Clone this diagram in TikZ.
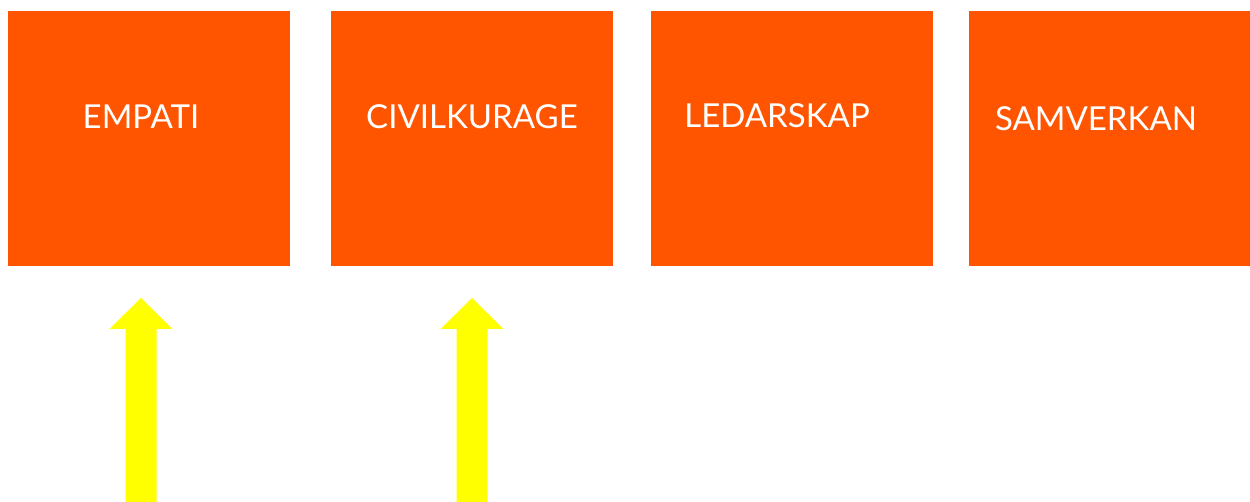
\documentclass[tikz,border=0pt]{standalone}
\usepackage{fontspec}
\setmainfont{Lato}
\usetikzlibrary{positioning}
\definecolor{boxorange}{HTML}{FF5500}
\definecolor{arrowyellow}{HTML}{FFFF00}

\begin{document}
\begin{tikzpicture}[x=1pt, y=-1pt]
		\useasboundingbox (0,0) rectangle (1250,502);
		\tikzset{
			valuebox/.style={fill=boxorange, anchor=north west, inner sep=0pt,
				minimum width=282pt, minimum height=255pt},
			valuetext/.style={text=white, font=\fontsize{33}{40}\selectfont, inner sep=0pt}
		}
		% Boxes
		\node[valuebox] (empati) at (8,11) {};
		\node[valuebox] (civil) at (331,11) {};
		\node[valuebox] (ledar) at (651,11) {};
		\node[valuebox, minimum width=281pt] (samverk) at (969,11) {};
		
		% Labels
		\node[valuetext] (empatiT) at (141,117) {EMPATI};
		\node[valuetext] (civilT) at (472,117) {CIVILKURAGE};
		\node[valuetext] (ledarT) at (777,116) {LEDARSKAP};
		\node[valuetext] (samverkT) at (1096,119) {SAMVERKAN};
		
		% Arrows
		\foreach \c in {141,472} {
			\fill[arrowyellow] (\c-15.5,502) -- (\c-15.5,329) -- (\c-31.5,329) -- (\c,298)
				-- (\c+31.5,329) -- (\c+15.5,329) -- (\c+15.5,502) -- cycle;
		}
	\end{tikzpicture}
\end{document}
